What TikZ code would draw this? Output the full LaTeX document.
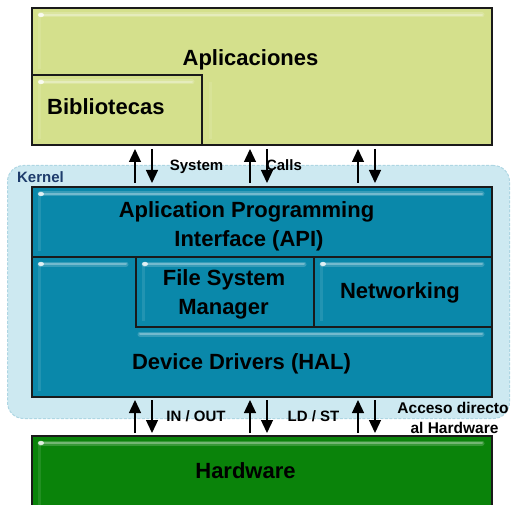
\documentclass[tikz,border=0pt]{standalone}
\usepackage{fontspec}
\setmainfont{Liberation Sans}
\usetikzlibrary{arrows.meta}

\definecolor{appfill}{HTML}{D4E08C}
\definecolor{corefill}{HTML}{0A88AA}
\definecolor{hwfill}{HTML}{0A830A}
\definecolor{kernelbg}{HTML}{CDE9F1}
\definecolor{kernelline}{HTML}{AED6E3}
\definecolor{kerneltext}{HTML}{1E3C6C}
\definecolor{edge}{HTML}{1A1A1A}

% glossy streak along the top of a panel and a faint bevel on its left side
% #1 = left x, #2 = top y, #3 = right x, #4 = bottom y
\newcommand\glint[4]{%
  \draw[white, opacity=.10, line width=3pt] (#1+7,#2+9) -- (#1+7,#4-6);
  \draw[white, opacity=.18, line width=5pt, line cap=round] (#1+8,#2+7) -- (#3-10,#2+7);
  \draw[white, opacity=.30, line width=2pt, line cap=round] (#1+8,#2+7) -- (#3-10,#2+7);
  \fill[white, opacity=.8] (#1+9,#2+7) ellipse (3pt and 2.2pt);
}

\tikzset{
  layer/.style={rectangle, draw=edge, line width=1.1pt, inner sep=0pt,
    outer sep=0pt, anchor=north west},
  applayer/.style={layer, fill=appfill},
  corelayer/.style={layer, fill=corefill},
  hwlayer/.style={layer, fill=hwfill},
  bigtext/.style={font=\fontsize{22}{26}\selectfont\bfseries, anchor=base,
    inner sep=0pt, text=black},
  smalltext/.style={font=\fontsize{15}{18}\selectfont\bfseries, anchor=base,
    inner sep=0pt, text=black},
  flow/.style={line width=1.3pt, -{Triangle[length=13pt,width=12pt]},
    shorten >=4pt, shorten <=4pt},
  lowflow/.style={flow, shorten >=3pt, shorten <=3pt},
}

\begin{document}
\begin{tikzpicture}[x=1pt, y=-1pt]
\useasboundingbox (0,0) rectangle (511,505);

% kernel background
\node[rectangle, rounded corners=16pt, fill=kernelbg, draw=kernelline,
  line width=1pt, dash pattern=on 3pt off 1.5pt, minimum width=502pt,
  minimum height=253pt, anchor=north west, inner sep=0pt] (kernel) at (7,165) {};
\node[font=\fontsize{15}{18}\selectfont\bfseries, text=kerneltext, anchor=base,
  inner sep=0pt] (kernellabel) at (40.5,182.5) {Kernel};

% applications and libraries
\node[applayer, minimum width=460pt, minimum height=137pt] (apps) at (32,8) {};
\glint{32}{8}{492}{75}
\draw[white, opacity=.10, line width=3pt] (210,82) -- (210,139);
\node[applayer, minimum width=170pt, minimum height=70pt] (bib) at (32,75) {};
\glint{32}{75}{202}{145}

\node[bigtext] (appstext) at (250.5,66) {Aplicaciones};
\node[bigtext] (bibtext) at (105.8,115) {Bibliotecas};

% kernel core
\node[corelayer, minimum width=460pt, minimum height=210pt] (core) at (32,187) {};
\node[corelayer, minimum width=460pt, minimum height=70pt] (api) at (32,187) {};
\glint{32}{187}{492}{257}
\glint{32}{257}{136}{397}
\node[corelayer, minimum width=178pt, minimum height=70pt] (fs) at (136,257) {};
\glint{136}{257}{314}{327}
\node[corelayer, minimum width=178pt, minimum height=70pt] (net) at (314,257) {};
\glint{314}{257}{492}{327}
\draw[white, opacity=.18, line width=5pt, line cap=round] (140,334) -- (482,334);
\draw[white, opacity=.30, line width=2pt, line cap=round] (140,334) -- (482,334);

\node[bigtext] (apitext1) at (246.5,218) {Aplication Programming};
\node[bigtext] (apitext2) at (249,246) {Interface (API)};
\node[bigtext] (fstext1) at (224,285) {File System};
\node[bigtext] (fstext2) at (223.5,314) {Manager};
\node[bigtext] (nettext) at (400,298) {Networking};
\node[bigtext] (haltext) at (241.5,369) {Device Drivers (HAL)};

% hardware
\node[hwlayer, minimum width=460pt, minimum height=80pt] (hw) at (32,436) {};
\glint{32}{436}{492}{512}
\node[bigtext] (hwtext) at (245.5,478) {Hardware};

% labels of the interfaces
\node[smalltext] (syslabel) at (196.5,170.5) {System};
\node[smalltext] (callslabel) at (284,170.5) {Calls};
\node[smalltext] (iolabel) at (196,421.5) {IN / OUT};
\node[smalltext] (ldlabel) at (313.5,421.5) {LD / ST};
\node[smalltext, font=\fontsize{15.5}{18}\selectfont\bfseries] (directlabel1) at (453,413.5) {Acceso directo};
\node[smalltext, font=\fontsize{15.5}{18}\selectfont\bfseries] (directlabel2) at (454.5,433.5) {al Hardware};

% system calls between applications and kernel
\foreach \u/\d in {135/152, 250/267, 358/375}{
  \draw[flow] (api.north -| \u,0) -- (apps.south -| \u,0);
  \draw[flow] (apps.south -| \d,0) -- (api.north -| \d,0);
}

% access between kernel and hardware
\foreach \u/\d in {135/152, 250/267, 358/375}{
  \draw[lowflow] (hw.north -| \u,0) -- (core.south -| \u,0);
  \draw[lowflow] (core.south -| \d,0) -- (hw.north -| \d,0);
}
\end{tikzpicture}
\end{document}
